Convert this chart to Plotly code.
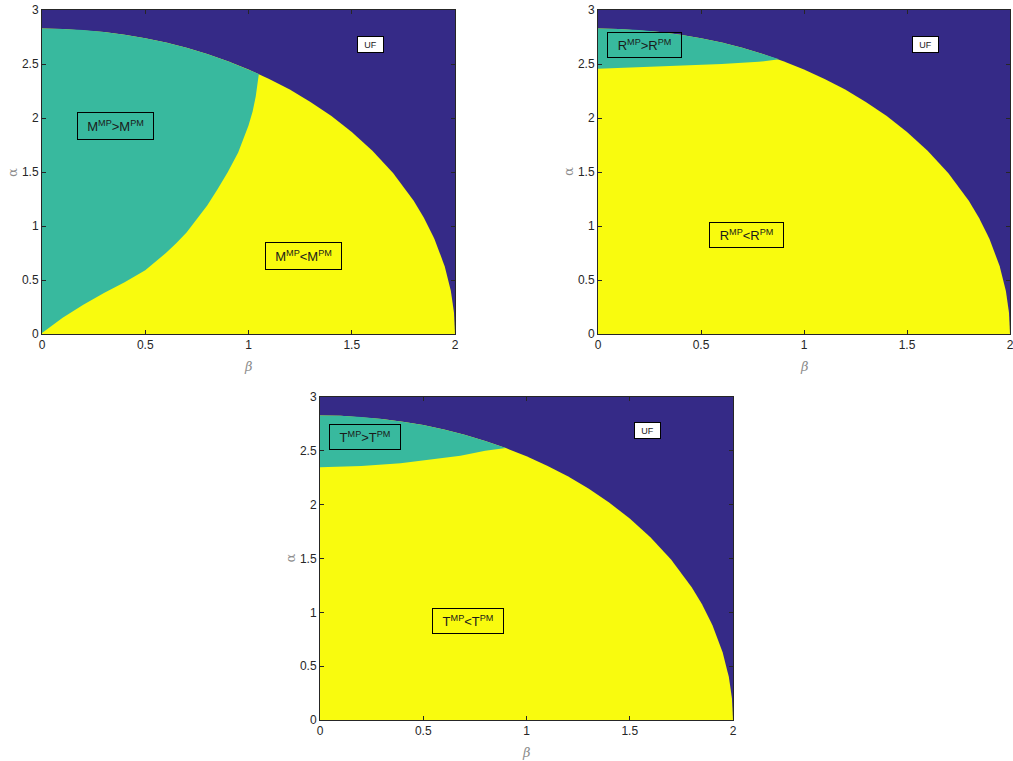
import plotly.graph_objects as go

# ---- data ----
# outer feasibility boundary (beta, alpha)
bound_beta = [0, 0.1, 0.2, 0.3, 0.4, 0.5, 0.6, 0.7, 0.8, 0.9, 1.0, 1.1, 1.2, 1.3, 1.4,
              1.5, 1.6, 1.7, 1.8, 1.85, 1.9, 1.95, 1.98, 1.995, 2.0]
bound_alpha = [2.828, 2.825, 2.814, 2.796, 2.771, 2.739, 2.698, 2.650, 2.592, 2.526, 2.449,
               2.362, 2.263, 2.149, 2.020, 1.871, 1.697, 1.490, 1.233, 1.075, 0.883, 0.628,
               0.399, 0.200, 0.0]

# dividing curves between MP>PM and MP<PM regions
m_div_beta = [0, 0.05, 0.1, 0.2, 0.3, 0.4, 0.5, 0.6, 0.65, 0.7, 0.75, 0.8, 0.85, 0.9, 0.95,
              0.98, 1.0, 1.02, 1.035, 1.05]
m_div_alpha = [0.01, 0.08, 0.15, 0.27, 0.38, 0.48, 0.59, 0.75, 0.84, 0.94, 1.06, 1.19, 1.34,
               1.50, 1.68, 1.82, 1.93, 2.06, 2.20, 2.407]

r_div_beta = [0, 0.2, 0.42, 0.6, 0.78, 0.88]
r_div_alpha = [2.455, 2.468, 2.484, 2.50, 2.52, 2.543]

t_div_beta = [0, 0.2, 0.39, 0.55, 0.68, 0.8, 0.9]
t_div_alpha = [2.347, 2.36, 2.384, 2.42, 2.455, 2.50, 2.526]

x_ticks = [0, 0.5, 1, 1.5, 2]
y_ticks = [0, 0.5, 1, 1.5, 2, 2.5, 3]

panel_labels = [
    ("M<sup>MP</sup>>M<sup>PM</sup>", 0.356, 1.926, "M<sup>MP</sup><M<sup>PM</sup>", 1.266, 0.718, 1.593, 2.676),
    ("R<sup>MP</sup>>R<sup>PM</sup>", 0.226, 2.676, "R<sup>MP</sup><R<sup>PM</sup>", 0.721, 0.921, 1.59, 2.676),
    ("T<sup>MP</sup>>T<sup>PM</sup>", 0.218, 2.633, "T<sup>MP</sup><T<sup>PM</sup>", 0.717, 0.920, 1.586, 2.689),
]
box_sizes = [(73, 24), (71, 22), (68, 22)]
dividers = [(m_div_beta, m_div_alpha), (r_div_beta, r_div_alpha), (t_div_beta, t_div_alpha)]

# ---- style ----
C_BLUE = "#352A87"
C_TEAL = "#38B99E"
C_YELLOW = "#F9FB0E"
W, H = 1013, 761

domains = [
    ([42 / W, 455 / W], [1 - 334 / H, 1 - 10 / H]),
    ([598 / W, 1010 / W], [1 - 334 / H, 1 - 10 / H]),
    ([320 / W, 733 / W], [1 - 720 / H, 1 - 397 / H]),
]

fig = go.Figure()
annotations = []
for i, ((db, da), (xd, yd), labs, bs) in enumerate(zip(dividers, domains, panel_labels, box_sizes)):
    xa = "x" if i == 0 else f"x{i+1}"
    ya = "y" if i == 0 else f"y{i+1}"
    # yellow feasible region
    yx = [0] + bound_beta
    yy = [0] + bound_alpha
    fig.add_trace(go.Scatter(x=yx, y=yy, fill="toself", fillcolor=C_YELLOW, mode="lines",
                             line=dict(width=0), xaxis=xa, yaxis=ya, hoverinfo="skip",
                             showlegend=False))
    # teal region: divider + boundary back to beta=0
    end_b = db[-1]
    bb = [b for b in bound_beta if b < end_b - 1e-9]
    ba = [a for b, a in zip(bound_beta, bound_alpha) if b < end_b - 1e-9]
    tx = list(db) + bb[::-1]
    ty = list(da) + ba[::-1]
    fig.add_trace(go.Scatter(x=tx, y=ty, fill="toself", fillcolor=C_TEAL, mode="lines",
                             line=dict(width=0), xaxis=xa, yaxis=ya, hoverinfo="skip",
                             showlegend=False))

    axis_common = dict(showline=True, linecolor="#262626", linewidth=1, mirror="ticks",
                       ticks="inside", ticklen=4, tickcolor="#262626", showgrid=False,
                       zeroline=False, automargin=False, ticklabeloverflow="allow",
                       tickfont=dict(family="Liberation Sans", size=12, color="#262626"),
                       fixedrange=True)
    fig.layout[("xaxis" if i == 0 else f"xaxis{i+1}")] = dict(
        domain=xd, range=[0, 2], tickvals=x_ticks, ticktext=[f"{v:g}" for v in x_ticks],
        anchor=ya, **axis_common)
    fig.layout[("yaxis" if i == 0 else f"yaxis{i+1}")] = dict(
        domain=yd, range=[0, 3], tickvals=y_ticks, ticktext=[f"{v:g}" for v in y_ticks],
        anchor=xa, **axis_common)

    txt_hi, bx1, ay1, txt_lo, bx2, ay2, ufx, ufy = labs
    box_font = dict(family="Liberation Sans", size=13, color="#1a1a1a")
    annotations.append(dict(x=bx1, y=ay1, xref=xa, yref=ya, text=txt_hi, showarrow=False,
                            font=box_font, bordercolor="#000000", borderwidth=1,
                            width=bs[0], height=bs[1], align="center"))
    annotations.append(dict(x=bx2, y=ay2, xref=xa, yref=ya, text=txt_lo, showarrow=False,
                            font=box_font, bordercolor="#000000", borderwidth=1,
                            width=bs[0], height=bs[1], align="center"))
    annotations.append(dict(x=ufx, y=ufy, xref=xa, yref=ya, text="UF", showarrow=False,
                            font=dict(family="Liberation Sans", size=9, color="#1a1a1a"),
                            bordercolor="#000000", borderwidth=1, bgcolor="#ffffff",
                            width=23, height=13, align="center"))
    # axis titles
    xc = (xd[0] + xd[1]) / 2
    annotations.append(dict(x=xc, y=yd[0] - 32 / H, xref="paper", yref="paper", text="<i>β</i>",
                            showarrow=False, xanchor="center", yanchor="middle",
                            font=dict(family="DejaVu Serif", size=13, color="#8c8c8c")))
    annotations.append(dict(x=xd[0] - 30 / W, y=(yd[0] + yd[1]) / 2, xref="paper", yref="paper",
                            text="α", textangle=-90, showarrow=False, xanchor="center",
                            yanchor="middle",
                            font=dict(family="DejaVu Serif", size=13, color="#8c8c8c")))

fig.update_layout(width=W, height=H, autosize=False, margin=dict(l=0, r=0, t=0, b=0, pad=0),
                  paper_bgcolor="white", plot_bgcolor=C_BLUE, annotations=annotations)

fig.write_html(
    "out.html",
    config={"displayModeBar": False},
    post_script=("document.documentElement.style.margin='0';"
                 "document.body.style.margin='0';"
                 "document.body.style.overflow='hidden';"
                 "document.documentElement.style.overflow='hidden';"),
)
